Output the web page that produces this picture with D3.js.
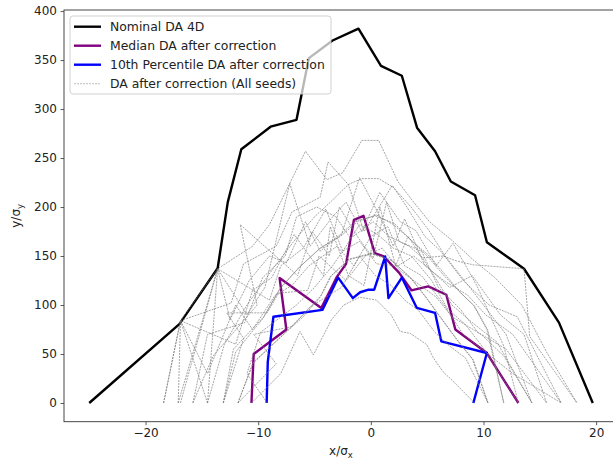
<!DOCTYPE html>
<html><head><meta charset="utf-8">
<script src="https://cdn.jsdelivr.net/npm/d3@7"></script>
<style>body{margin:0;background:#fff}svg{display:block;font-family:"DejaVu Sans",sans-serif}</style>
</head><body><svg id="c" width="613" height="461"></svg>
<script>
const nominalX = [-25, -17, -13.6, -12.7, -11.5, -8.9, -6.6, -5.5, -3.4, -1.1, 0.9, 2.75, 4.1, 5.7, 7.1, 9.25, 10.3, 13.6, 16.7, 19.7];
const nominalY = [0, 80.5, 137.5, 205, 259, 282, 289, 352, 370, 382, 344, 334, 281, 257, 226, 212, 164, 137, 82, 0];
const medianX = [-10.6, -10.4, -7.5, -8.1, -4.4, -3.0, -2.2, -1.5, -0.65, 0.35, 1.1, 2.5, 3.6, 5.1, 6.7, 7.5, 10.3, 13.1];
const medianY = [0, 50, 75, 127.5, 97, 129, 142, 187, 191, 153, 150, 133, 115, 119, 110.5, 75, 51, 0];
const p10X = [-9.25, -9.15, -8.65, -4.3, -2.9, -1.6, -0.95, -0.2, 0.3, 1.27, 1.56, 2.75, 4.08, 5.7, 6.25, 10.3, 9.1];
const p10Y = [0, 42, 88, 95, 128, 107, 113, 115.6, 115.6, 149.5, 107, 128, 97, 92, 62.9, 51, 0];
const seedRuns = [
  [[-17.1,0],[-16.9,84],[-13.6,137],[-10.5,160],[-9,182],[-7.2,224],[-5.8,257],[-3.9,228],[-2.5,235],[-0.8,268],[0.7,268],[2.4,226],[3.8,205],[5.2,185],[7.3,165],[9.1,146],[11,128],[13.4,100],[15.6,52],[18.3,0]],
  [[-18.4,0],[-16.9,84],[-12.4,102],[-11.3,142],[-8.4,160],[-7.0,195],[-4.5,210],[-3.8,246],[-2.0,223],[-0.6,175],[1.9,222],[3.2,200],[4.8,170],[6.2,155],[8.2,125],[10.5,100],[13.0,88],[16.9,0]],
  [[-14.5,0],[-13,60],[-11,100],[-8.5,140],[-6.5,170],[-5,190],[-3.5,206],[-2,223],[-0.8,229],[0.7,229],[2,220],[3.5,201],[5.1,177],[6.6,150],[8.3,125],[10,100],[12,70],[14.3,0]],
  [[-13.1,0],[-12.2,55],[-9.5,88],[-8,118],[-6.3,139],[-4.5,158],[-2.7,170],[-1.2,185],[0.5,192],[2,182],[3.5,167],[5,150],[6.5,130],[8,112],[9.1,100],[10.3,75],[11.8,0]],
  [[-13.1,0],[-12,52],[-9.6,86],[-8.1,116],[-6.4,138],[-4.6,157],[-2.8,171],[-1.3,186],[0.4,191],[2.1,183],[3.6,166],[5.1,151],[6.6,131],[8.1,111],[9.2,99],[10.4,74],[11.8,0]],
  [[-11.8,0],[-10.5,40],[-8.5,62],[-6,88],[-4.5,108],[-3.6,129],[-2,146],[0,153],[1.8,146],[3.5,128],[4.8,109],[6,90],[7.6,65],[9,45],[10.4,0]],
  [[-11.8,0],[-10.4,42],[-8.4,63],[-6.1,89],[-4.4,110],[-3.5,130],[-1.9,147],[0.1,152],[1.9,145],[3.6,127],[4.9,108],[6.1,89],[7.7,64],[9.1,44],[10.4,0]],
  [[-15.8,0],[-14,48],[-10.1,100],[-11.6,182],[-6.5,130],[-5.2,175],[-3.7,150],[-2.8,200],[-1.2,170],[0.2,148],[1.4,205],[2.5,165],[4.5,155],[6,118],[8,95],[9.5,72],[12,55],[15.6,0]],
  [[-14.5,0],[-16.9,84],[-12,60],[-10.5,115],[-8.8,128],[-6.8,172],[-4.2,130],[-3.6,180],[-2,130],[-0.6,120],[0.8,200],[2.2,140],[3.3,170],[5.6,130],[7.2,100],[8.8,84],[11.2,62],[14.3,0]],
  [[-9.2,0],[-11,30],[-9.8,72],[-6.6,100],[-5,118],[-3.4,140],[-2.2,160],[-1,182],[0.6,172],[2,158],[3.6,150],[5.4,125],[6.8,96],[8.4,80],[10,56],[13.1,0]],
  [[-17.1,0],[-13.6,137],[-12.5,85],[-10.8,125],[-9,150],[-7.5,143],[-5.8,185],[-4.5,155],[-2.6,172],[-1,230],[0.6,195],[2,160],[3,188],[4.8,140],[6.6,124],[8.6,110],[10.2,90],[12.6,70],[16.9,0]],
  [[-13.1,0],[-11.3,66],[-12.8,92],[-9.2,92],[-8.2,112],[-5.6,115],[-4.6,150],[-2.2,125],[-0.5,150],[1,158],[2.6,135],[4.4,120],[5.8,108],[7.2,88],[9.8,70],[11.8,48],[14.3,0]],
  [[-11.8,0],[-8.4,40],[-10.4,70],[-7,78],[-5.4,98],[-4,108],[-2.6,118],[-1,150],[0.4,130],[1.8,120],[3.1,104],[4.2,95],[5.7,72],[7,58],[8.4,46],[10.4,0]],
  [[-15.8,0],[-14.5,70],[-11.2,82],[-9.6,128],[-7.6,150],[-6.6,190],[-4.8,200],[-3.1,190],[-1.8,168],[0.2,185],[1.6,170],[3.4,160],[4.6,148],[6.4,150],[7.6,145],[9.1,141],[13.6,137],[14.1,68],[18.3,0]],
  [[-14.5,0],[-13.6,137],[-9,105],[-8,140],[-6,158],[-4,198],[-2.5,155],[-1,165],[0.5,142],[2.4,140],[3.8,150],[5,139],[7,118],[9,130],[11.5,90],[13.6,70],[15.6,0]],
  [[-10.6,0],[-8,30],[-6.3,73],[-5.1,49],[-3.5,85],[-2.4,100],[-1.0,108],[0.5,105],[1.8,90],[2.6,73],[3.5,71],[4.97,59.5],[5.55,46],[6.4,32],[7.5,20],[9.2,0]],
  [[-18.4,0],[-16.9,84],[-14.5,30],[-12,100],[-10.5,75],[-8.5,110],[-7,120],[-5.5,140],[-3,160],[-1.5,140],[0,170],[1.5,180],[3,140],[4.5,130],[6.5,100],[8.2,70],[10.4,50],[12.6,30],[16.9,0]],
  [[-16.9,0],[-13.6,137],[-11,90],[-9.4,118],[-7.2,224],[-5.4,160],[-3.4,190],[-2.2,205],[-0.8,175],[0.8,215],[2.6,185],[4,176],[5.8,140],[7.3,163],[9.4,120],[11.8,58],[13.1,0]]
];
const xTicks = [-20, -10, 0, 10, 20];
const yTicks = [0, 50, 100, 150, 200, 250, 300, 350, 400];
const legendLabels = ["Nominal DA 4D", "Median DA after correction", "10th Percentile DA after correction", "DA after correction (All seeds)"];

const svg = d3.select("#c");
const L = 64, R = 618, T = 10, B = 421.7;
const x = d3.scaleLinear().domain([-27.24, 21.94]).range([L, R]);
const y = d3.scaleLinear().domain([-19.1, 401.1]).range([B, T]);
const line = d3.line().x(d => x(d[0])).y(d => y(d[1]));
const zip = (a, b) => a.map((v, i) => [v, b[i]]);

const plot = svg.append("g");
plot.append("path").datum(zip(nominalX, nominalY)).attr("d", line)
  .attr("fill", "none").attr("stroke", "#000").attr("stroke-width", 2.4).attr("stroke-linejoin", "round");
plot.append("path").datum(zip(medianX, medianY)).attr("d", line)
  .attr("fill", "none").attr("stroke", "#800080").attr("stroke-width", 2.4).attr("stroke-linejoin", "round");
plot.append("path").datum(zip(p10X, p10Y)).attr("d", line)
  .attr("fill", "none").attr("stroke", "#0000ff").attr("stroke-width", 2.4).attr("stroke-linejoin", "round");
plot.selectAll(".seed").data(seedRuns).join("path").attr("class", "seed").attr("d", line)
  .attr("fill", "none").attr("stroke", "#7a7a7a").attr("stroke-width", 0.8)
  .attr("stroke-dasharray", "2,1").attr("opacity", 0.85);

// axes
const xAxis = d3.axisBottom(x).tickValues(xTicks).tickSize(3.5).tickPadding(3.5);
const yAxis = d3.axisLeft(y).tickValues(yTicks).tickSize(3.5).tickPadding(3.5);
const gx = svg.append("g").attr("transform", `translate(0,${B})`).call(xAxis);
const gy = svg.append("g").attr("transform", `translate(${L},0)`).call(yAxis);
[gx, gy].forEach(g => {
  g.select(".domain").remove();
  g.selectAll(".tick line").attr("stroke", "#333").attr("stroke-width", 0.8);
  g.selectAll(".tick text").attr("fill", "#222").style("font-size", "12px").style("font-family", "DejaVu Sans");
});
// spines
svg.append("rect").attr("x", L).attr("y", T).attr("width", R - L).attr("height", B - T)
  .attr("fill", "none").attr("stroke", "#333").attr("stroke-width", 0.9);

// axis labels
const xl = svg.append("text").attr("x", (L + R) / 2).attr("y", 455).attr("text-anchor", "middle")
  .attr("fill", "#222").style("font-size", "12px");
xl.append("tspan").text("x/σ");
xl.append("tspan").attr("dy", 3).style("font-size", "8.5px").text("x");
const yl = svg.append("text").attr("transform", `translate(20,${(T + B) / 2}) rotate(-90)`).attr("text-anchor", "middle")
  .attr("fill", "#222").style("font-size", "12px");
yl.append("tspan").text("y/σ");
yl.append("tspan").attr("dy", 3).style("font-size", "8.5px").text("y");

// legend
const lg = svg.append("g");
lg.append("rect").attr("x", 70).attr("y", 16).attr("width", 261).attr("height", 78).attr("rx", 3)
  .attr("fill", "#fff").attr("fill-opacity", 0.72).attr("stroke", "#cccccc").attr("stroke-width", 0.9);
const lstyles = [
  {c: "#000", w: 2.4, d: null, o: 1},
  {c: "#800080", w: 2.4, d: null, o: 1},
  {c: "#0000ff", w: 2.4, d: null, o: 1},
  {c: "#7a7a7a", w: 0.8, d: "2,1", o: 0.6}
];
legendLabels.forEach((t, i) => {
  const cy = 26.7 + i * 19;
  const s = lstyles[i];
  lg.append("line").attr("x1", 74).attr("x2", 101).attr("y1", cy).attr("y2", cy)
    .attr("stroke", s.c).attr("stroke-width", s.w).attr("stroke-dasharray", s.d).attr("opacity", s.o);
  lg.append("text").attr("x", 110).attr("y", cy + 4.3).attr("fill", "#222").style("font-size", "12.4px").text(t);
});
</script></body></html>
